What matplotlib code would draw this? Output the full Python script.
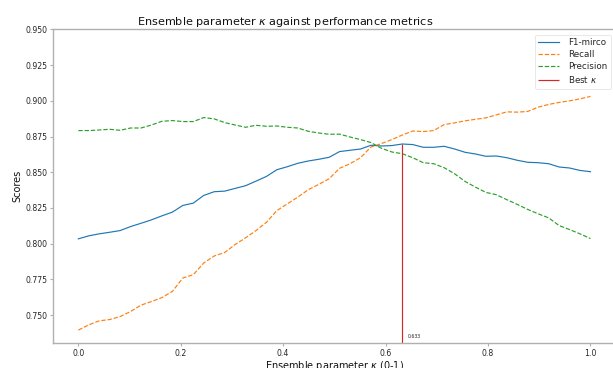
import numpy as np
import matplotlib
matplotlib.use("Agg")
import matplotlib.pyplot as plt

# ---- data ----
kappa = np.linspace(0, 1, 50)
f1 = [0.8034, 0.8055, 0.8069, 0.8080, 0.8092, 0.8120, 0.8143, 0.8167, 0.8195, 0.8221,
      0.8268, 0.8284, 0.8338, 0.8364, 0.8368, 0.8387, 0.8406, 0.8438, 0.8471, 0.8518,
      0.8539, 0.8563, 0.8579, 0.8591, 0.8605, 0.8645, 0.8654, 0.8663, 0.8689, 0.8684,
      0.8687, 0.8698, 0.8694, 0.8675, 0.8675, 0.8682, 0.8663, 0.8640, 0.8628, 0.8612,
      0.8614, 0.8602, 0.8584, 0.8570, 0.8567, 0.8560, 0.8537, 0.8530, 0.8513, 0.8504]
recall = [0.7395, 0.7432, 0.7460, 0.7469, 0.7490, 0.7525, 0.7570, 0.7595, 0.7623, 0.7666,
          0.7760, 0.7783, 0.7865, 0.7914, 0.7938, 0.7994, 0.8041, 0.8092, 0.8150, 0.8232,
          0.8279, 0.8326, 0.8378, 0.8415, 0.8455, 0.8528, 0.8560, 0.8602, 0.8677, 0.8701,
          0.8729, 0.8761, 0.8789, 0.8785, 0.8792, 0.8834, 0.8846, 0.8860, 0.8871, 0.8881,
          0.8902, 0.8923, 0.8921, 0.8926, 0.8956, 0.8975, 0.8989, 0.9000, 0.9014, 0.9031]
precision = [0.8792, 0.8792, 0.8796, 0.8801, 0.8794, 0.8810, 0.8810, 0.8831, 0.8857, 0.8862,
             0.8855, 0.8855, 0.8883, 0.8874, 0.8848, 0.8831, 0.8815, 0.8829, 0.8822, 0.8824,
             0.8815, 0.8810, 0.8787, 0.8775, 0.8766, 0.8767, 0.8747, 0.8729, 0.8708, 0.8668,
             0.8642, 0.8630, 0.8602, 0.8567, 0.8560, 0.8532, 0.8490, 0.8436, 0.8396, 0.8359,
             0.8343, 0.8308, 0.8275, 0.8240, 0.8209, 0.8181, 0.8127, 0.8099, 0.8069, 0.8036]
yticks = [0.750, 0.775, 0.800, 0.825, 0.850, 0.875, 0.900, 0.925, 0.950]
xticks = [0.0, 0.2, 0.4, 0.6, 0.8, 1.0]

best_idx = int(np.argmax(f1))
best_kappa = kappa[best_idx]
best_f1 = f1[best_idx]

# ---- figure ----
fig = plt.figure(figsize=(6.13, 3.68), dpi=100)
ax = fig.add_axes([0.086, 0.068, 0.919, 0.852])

lw = 0.85
ax.plot(kappa, f1, color="tab:blue", lw=lw, label="F1-mirco")
ax.plot(kappa, recall, color="tab:orange", lw=lw, ls="--", label="Recall")
ax.plot(kappa, precision, color="tab:green", lw=lw, ls="--", label="Precision")
ax.vlines(best_kappa, 0.70, best_f1, color="tab:red", lw=lw, label=r"Best $\kappa$")
ax.text(best_kappa + 0.01, 0.7335, f"{best_kappa:.3f}", fontsize=3.3, color="#222222",
        va="bottom", ha="left")

ax.set_xlim(-0.05, 1.05)
ax.set_ylim(0.7305, 0.95)
ax.set_xticks(xticks)
ax.set_yticks(yticks)
ax.set_yticklabels([f"{v:.3f}" for v in yticks])

for s in ax.spines.values():
    s.set_color("#b0b0b0")
    s.set_linewidth(1.0)
ax.tick_params(colors="#b0b0b0", labelcolor="#262626", labelsize=5.6, length=2.5, width=0.8,
               pad=1.5)

ax.set_title(r"Ensemble parameter $\kappa$ against performance metrics", fontsize=8.1,
             color="#111111", pad=2.5, x=0.412)
ax.set_xlabel(r"Ensemble parameter $\kappa$ (0-1)", fontsize=7, color="#111111", labelpad=1)
ax.set_ylabel("Scores", fontsize=7, color="#111111", labelpad=2)

leg = ax.legend(loc="upper right", fontsize=6.3, frameon=True, borderaxespad=0.6,
                handlelength=2.4, handletextpad=1.0, labelspacing=0.35)
leg.get_frame().set_edgecolor("#dddddd")
leg.get_frame().set_linewidth(0.6)
for t in leg.get_texts():
    t.set_color("#262626")

fig.savefig("out.png", dpi=100)
